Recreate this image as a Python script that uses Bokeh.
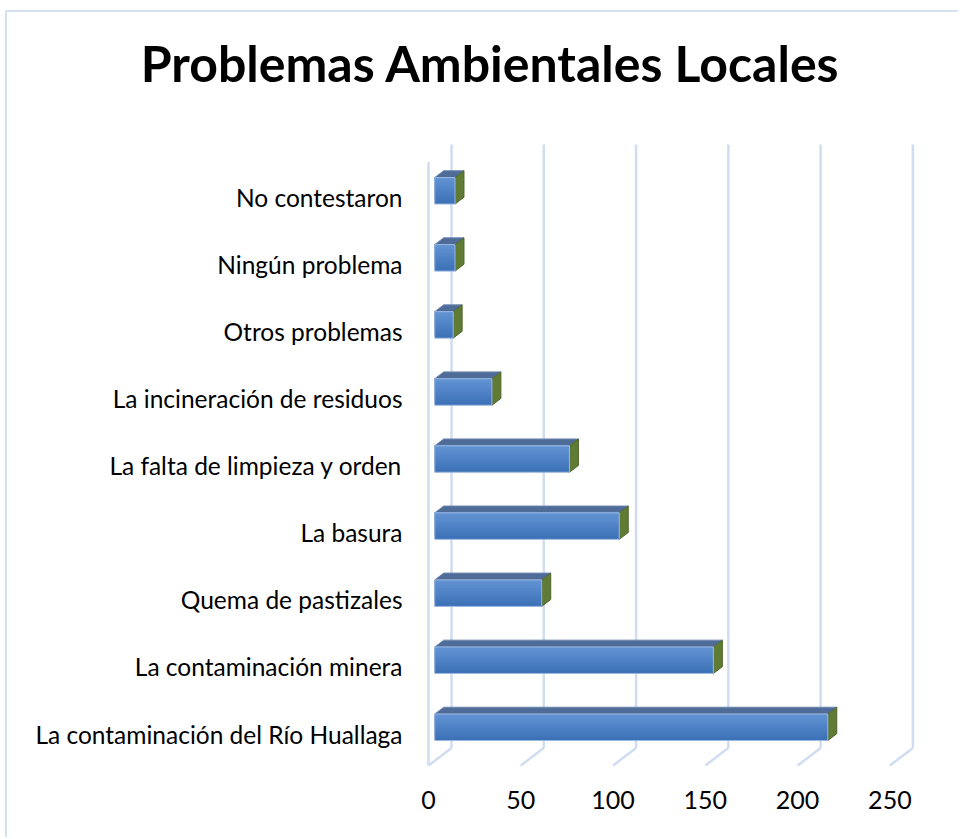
import numpy as np
from bokeh.plotting import figure
from bokeh.models import Range1d
from bokeh.core.properties import value
from bokeh.embed import file_html
from bokeh.resources import INLINE

# ---------------- data ----------------
categories = [
    "La contaminación del Río Huallaga",
    "La contaminación minera",
    "Quema de pastizales",
    "La basura",
    "La falta de limpieza y orden",
    "La incineración de residuos",
    "Otros problemas",
    "Ningún problema",
    "No contestaron",
]
values = [213, 151, 58, 100, 73, 31, 10, 11, 11]
ticks = [0, 50, 100, 150, 200, 250]
tick_labels = ["0", "50", "100", "150", "200", "250"]
title_text = "Problemas Ambientales Locales"

# ---------------- geometry (pixel scale of the 3D projection) ----------------
W, H = 958, 837
PX_X = 1.8455          # pixels per value unit
PX_Y = 67.06           # pixels per category
X0_PIX = 428.0         # canvas px of value 0 on the front plane
Y0_PIX = 731.5         # canvas px (from top) of first category on front plane
x_start = -X0_PIX / PX_X
x_end = (W - X0_PIX) / PX_X
y_end = Y0_PIX / PX_Y
y_start = -(H - Y0_PIX) / PX_Y

DX = 23.0 / PX_X       # full depth offset in value units
DY = 17.5 / PX_Y       # full depth offset in category units
F0, F1 = 0.27, 0.66    # bar front / back depth fractions
HH = 0.395 / 2         # half bar thickness (category units)

n = len(categories)
ks = np.arange(n, dtype=float)
vals = np.array(values, dtype=float)
kmin, kmax = -0.5, n - 0.5

p = figure(width=W, height=H,
           x_range=Range1d(x_start, x_end), y_range=Range1d(y_start, y_end),
           x_axis_type=None, y_axis_type=None,
           output_backend="svg", toolbar_location=None,
           min_border=0, outline_line_color=None,
           background_fill_color="white", border_fill_color="white")

# chart border (left & top visible)
bx = x_start + 5.5 / PX_X
by = y_end - 10.5 / PX_Y
p.line(x=[bx, bx, x_end], y=[y_start, by, by],
       line_color="#d6e0ef", line_width=2)

GRID = "#d0ddf1"
# back-wall gridlines
p.multi_line(xs=[[t + DX, t + DX] for t in ticks],
             ys=[[kmin + DY, kmax + DY] for t in ticks],
             line_color=GRID, line_width=2.5)
# floor diagonals
p.multi_line(xs=[[t, t + DX] for t in ticks],
             ys=[[kmin, kmin + DY] for t in ticks],
             line_color=GRID, line_width=2.5)
# side wall front edge
p.line(x=[ticks[0], ticks[0]], y=[kmin, kmax], line_color=GRID, line_width=2.5)

# ---------------- bars ----------------
ox0, oy0 = F0 * DX, F0 * DY
ox1, oy1 = F1 * DX, F1 * DY

# top faces
top_xs = [[0 + ox0, v + ox0, v + ox1, 0 + ox1] for v in vals]
top_ys = [[k + HH + oy0, k + HH + oy0, k + HH + oy1, k + HH + oy1] for k in ks]
p.patches(xs=top_xs, ys=top_ys, fill_color="#4f6b97",
          line_color="#6f88b0", line_width=1)

# side faces
side_xs = [[v + ox0, v + ox1, v + ox1, v + ox0] for v in vals]
side_ys = [[k + HH + oy0, k + HH + oy1, k - HH + oy1, k - HH + oy0] for k in ks]
p.patches(xs=side_xs, ys=side_ys, fill_color="#607b34",
          line_color="#4e6429", line_width=1)

# front faces with vertical gradient (stacked layers, no seams)
c_top = np.array([0x63, 0x94, 0xd4])
c_bot = np.array([0x3b, 0x70, 0xb6])
NS = 16
face_top = ks + HH + oy0
for i in range(NS):
    t = (i + 0.5) / NS
    col = c_bot + (c_top - c_bot) * t
    hexcol = "#%02x%02x%02x" % tuple(int(round(c)) for c in col)
    b = ks - HH + oy0 + (2 * HH) * i / NS
    p.quad(left=np.full(n, ox0), right=vals + ox0, bottom=b, top=face_top,
           fill_color=hexcol, line_color=None)
p.quad(left=np.full(n, ox0), right=vals + ox0, bottom=ks - HH + oy0, top=face_top,
       fill_color=None, line_color="#9cb8df", line_width=1)

# ---------------- texts ----------------
p.text(x=np.zeros(n), y=ks, text=categories, x_offset=-26, y_offset=2,
       text_align="right", text_baseline="middle",
       text_font=value("Lato"), text_font_size="24.5px", text_color="#000000")

p.text(x=ticks, y=[kmin] * len(ticks), text=tick_labels, y_offset=34,
       text_align="center", text_baseline="middle",
       text_font=value("Lato"), text_font_size="25px", text_color="#000000")

p.text(x=[(x_start + x_end) / 2], y=[y_end], text=[title_text],
       x_offset=11, y_offset=62,
       text_align="center", text_baseline="alphabetic",
       text_font=value("Lato"), text_font_style="bold",
       text_font_size="50px", text_color="#000000")

open("out.html", "w").write(file_html(p, INLINE))
